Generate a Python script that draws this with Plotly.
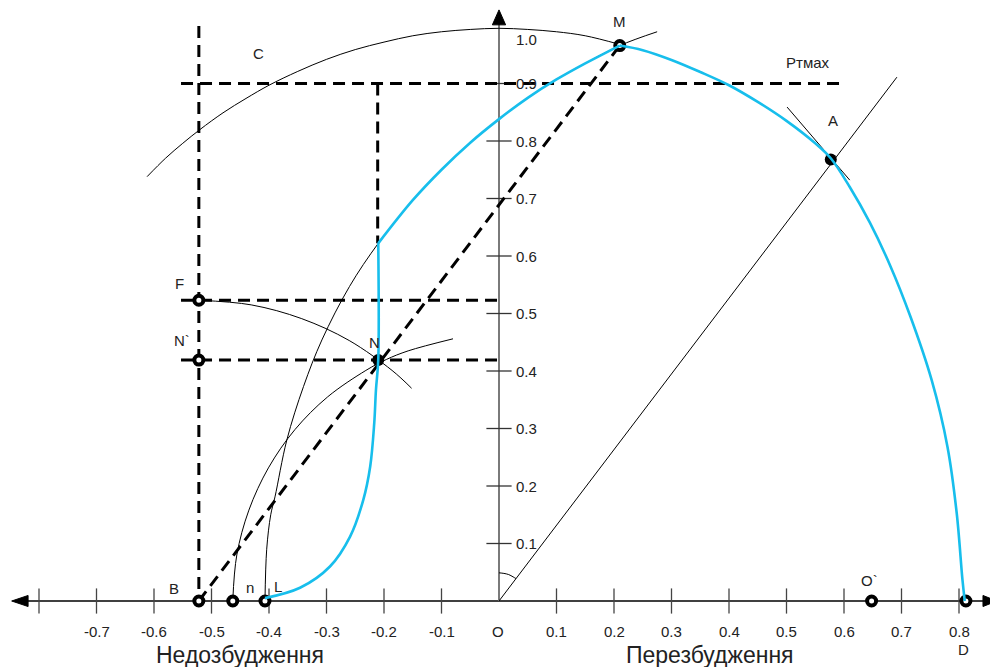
import plotly.graph_objects as go

# ---------------- data ----------------
x_tick_vals = [-0.8, -0.7, -0.6, -0.5, -0.4, -0.3, -0.2, -0.1, 0.1, 0.2, 0.3, 0.4, 0.5, 0.6, 0.7, 0.8]
x_tick_labels = ["", "-0.7", "-0.6", "-0.5", "-0.4", "-0.3", "-0.2", "-0.1", "0.1", "0.2", "0.3", "0.4", "0.5", "0.6", "0.7", "0.8"]
y_tick_vals = [0.1, 0.2, 0.3, 0.4, 0.5, 0.6, 0.7, 0.8, 0.9]
y_tick_labels = ["0.1", "0.2", "0.3", "0.4", "0.5", "0.6", "0.7", "0.8", "0.9"]

# cyan capability curve (three parts)
cyan_low_x = [-0.407, -0.346, -0.294, -0.259, -0.236, -0.224, -0.217, -0.214, -0.210, -0.210]
cyan_low_y = [0.005, 0.023, 0.060, 0.112, 0.176, 0.234, 0.309, 0.367, 0.419, 0.622]
cyan_mid_x = [-0.210, -0.15, -0.10, -0.05, 0.0, 0.05, 0.10, 0.15, 0.210]
cyan_mid_y = [0.622, 0.697, 0.750, 0.797, 0.838, 0.875, 0.907, 0.935, 0.966]
cyan_high_x = [0.210, 0.25, 0.30, 0.35, 0.40, 0.45, 0.50, 0.55, 0.577, 0.610, 0.645, 0.680, 0.715, 0.7525, 0.780, 0.796, 0.806, 0.810]
cyan_high_y = [0.966, 0.958, 0.941, 0.920, 0.897, 0.868, 0.835, 0.796, 0.770, 0.720, 0.658, 0.584, 0.496, 0.384, 0.268, 0.153, 0.037, 0.0]

# thin construction arcs / lines
arc_L_x = [-0.407, -0.404, -0.397, -0.3896, -0.369, -0.34, -0.308, -0.26, -0.21, -0.15, -0.10, -0.05, 0.0, 0.05, 0.10, 0.15, 0.21, 0.275]
arc_L_y = [0.0, 0.09, 0.15, 0.181, 0.280, 0.373, 0.454, 0.547, 0.622, 0.697, 0.750, 0.797, 0.838, 0.875, 0.907, 0.935, 0.966, 0.990]
arc_C_x = [-0.612, -0.58, -0.55, -0.52, -0.48, -0.44, -0.40, -0.35, -0.30, -0.25, -0.20, -0.15, -0.10, -0.05, 0.0, 0.05, 0.10, 0.15, 0.21]
arc_C_y = [0.738, 0.770, 0.796, 0.820, 0.849, 0.874, 0.897, 0.921, 0.942, 0.959, 0.972, 0.983, 0.990, 0.994, 0.996, 0.994, 0.990, 0.983, 0.968]
arc_F_x = [-0.522, -0.431, -0.343, -0.2605, -0.186, -0.152]
arc_F_y = [0.523, 0.515, 0.491, 0.453, 0.401, 0.370]
arc_n_x = [-0.463, -0.456, -0.435, -0.401, -0.355, -0.298, -0.2315, -0.196, -0.158, -0.080]
arc_n_y = [0.0, 0.080, 0.158, 0.2315, 0.298, 0.355, 0.401, 0.420, 0.435, 0.456]
line_OA_x = [0.0, 0.692]
line_OA_y = [0.0, 0.911]
tangent_A_x = [0.501, 0.610]
tangent_A_y = [0.859, 0.732]
angle_x = [0.0, 0.0085, 0.0168, 0.0245, 0.0295]
angle_y = [0.049, 0.048, 0.046, 0.042, 0.039]

# dashed construction lines
dashed_lines = [
    ([-0.553, 0.603], [0.9, 0.9]),        # Pт max
    ([-0.522, -0.522], [1.0, 0.0]),       # vertical through B
    ([-0.211, -0.211], [0.9, 0.622]),     # vertical to cyan
    ([-0.553, 0.0], [0.523, 0.523]),      # F level
    ([-0.553, 0.0], [0.419, 0.419]),      # N level
    ([-0.522, 0.21], [0.0, 0.966]),       # B -> M
]

# axis arrow heads (tip, base corners)
arrow_right_x = [0.8656, 0.8417, 0.8417, 0.8656]
arrow_right_y = [0.0, 0.0096, -0.0096, 0.0]
arrow_left_x = [-0.8475, -0.8190, -0.8190, -0.8475]
arrow_left_y = [0.0, 0.0096, -0.0096, 0.0]
arrow_up_x = [0.0, -0.0115, 0.0115, 0.0]
arrow_up_y = [1.028, 1.002, 1.002, 1.028]

# points
ring_names = ["B", "n", "L", "F", "N`", "O`", "D", "M"]
ring_x = [-0.522, -0.463, -0.407, -0.522, -0.522, 0.648, 0.812, 0.21]
ring_y = [0.0, 0.0, 0.0, 0.523, 0.419, 0.0, 0.0, 0.966]
dot_names = ["N", "A"]
dot_x = [-0.210, 0.577]
dot_y = [0.419, 0.768]

# labels
label_text = ["M", "A", "Ртмах", "C", "F", "N`", "N", "B", "n", "L", "O`", "O", "D"]
label_x = [0.2104, 0.5809, 0.5374, -0.4191, -0.5548, -0.5513, -0.2174, -0.5652, -0.4330, -0.3840, 0.6452, -0.0017, 0.8078]
label_y = [1.0070, 0.8348, 0.9357, 0.9530, 0.5530, 0.4522, 0.4504, 0.0226, 0.0243, 0.0260, 0.0365, -0.0539, -0.0852]
title_text = ["Недозбудження", "Перезбудження"]
title_x = [-0.4504, 0.3670]
title_y = [-0.0939, -0.0939]

# ---------------- figure ----------------
FONT = "Arial, Liberation Sans, sans-serif"
CYAN = "#17BEEC"
fig = go.Figure()

def line(x, y, color="black", width=1.0, dash=None, shape="linear"):
    fig.add_trace(go.Scatter(x=x, y=y, mode="lines", hoverinfo="skip", cliponaxis=False,
                             line=dict(color=color, width=width, dash=dash, shape=shape,
                                       smoothing=1.0 if shape == "spline" else None)))

def marks(x, y, **marker):
    fig.add_trace(go.Scatter(x=x, y=y, mode="markers", hoverinfo="skip", cliponaxis=False,
                             marker=marker))

def triangle(x, y):
    fig.add_trace(go.Scatter(x=x, y=y, mode="lines", fill="toself", fillcolor="black",
                             hoverinfo="skip", cliponaxis=False,
                             line=dict(color="black", width=1)))

# axes
line([-0.83, 0.85], [0.0, 0.0], color="black", width=1.5)
line([0.0, 0.0], [0.0, 1.01], color="#7a7a7a", width=2)
triangle(arrow_right_x, arrow_right_y)
triangle(arrow_left_x, arrow_left_y)
triangle(arrow_up_x, arrow_up_y)
marks(x_tick_vals, [0.0] * len(x_tick_vals), symbol="line-ns", size=18,
      line=dict(color="#444", width=1.3))
marks([0.0] * len(y_tick_vals), y_tick_vals, symbol="line-ew", size=18,
      line=dict(color="#333", width=1.3))

# thin construction
line(arc_C_x, arc_C_y, shape="spline")
line(arc_L_x, arc_L_y, shape="spline")
line(arc_F_x, arc_F_y, shape="spline")
line(arc_n_x, arc_n_y, shape="spline")
line(line_OA_x, line_OA_y)
line(tangent_A_x, tangent_A_y)
line(angle_x, angle_y, shape="spline")

# dashed
for dx, dy in dashed_lines:
    line(dx, dy, color="black", width=3, dash="12px,7px")

# markers
marks(ring_x, ring_y, symbol="circle", size=9, color="white", line=dict(color="black", width=4))
marks(dot_x, dot_y, symbol="circle", size=12, color="black")

# cyan curve
line(cyan_low_x, cyan_low_y, color=CYAN, width=2.6, shape="spline")
line(cyan_mid_x, cyan_mid_y, color=CYAN, width=2.6, shape="spline")
line(cyan_high_x, cyan_high_y, color=CYAN, width=2.6, shape="spline")

annotations = []
for v, t in zip(x_tick_vals, x_tick_labels):
    if t:
        annotations.append(dict(x=v, y=-0.0539, text=t, showarrow=False, xanchor="center",
                                yanchor="middle", font=dict(size=15, color="#222", family=FONT)))
for v, t in zip(y_tick_vals, y_tick_labels):
    annotations.append(dict(x=0.026, y=v, text=t, showarrow=False, xanchor="left",
                            yanchor="middle", font=dict(size=15, color="#222", family=FONT)))
annotations.append(dict(x=0.026, y=0.977, text="1.0", showarrow=False, xanchor="left",
                        yanchor="middle", font=dict(size=15, color="#222", family=FONT)))
for t, x, y in zip(label_text, label_x, label_y):
    annotations.append(dict(x=x, y=y, text=t, showarrow=False, xanchor="center",
                            yanchor="middle", font=dict(size=15, color="#222", family=FONT)))
for t, x, y in zip(title_text, title_x, title_y):
    annotations.append(dict(x=x, y=y, text=t, showarrow=False, xanchor="center",
                            yanchor="middle", font=dict(size=23, color="#222", family=FONT)))

# page body has an 8px margin: figure is 990x659 placed at (8, 8)
W, H = 990, 659
OX, OY, S = 491, 593, 575
fig.update_layout(
    width=W, height=H, autosize=False,
    margin=dict(l=0, r=0, t=0, b=0),
    paper_bgcolor="white", plot_bgcolor="white",
    showlegend=False, hovermode=False,
    xaxis=dict(range=[-OX / S, (W - OX) / S], visible=False, fixedrange=True),
    yaxis=dict(range=[(OY - H) / S, OY / S], visible=False, fixedrange=True),
    annotations=annotations,
)

fig.write_html("out.html", post_script="document.body.style.overflow='hidden';")
